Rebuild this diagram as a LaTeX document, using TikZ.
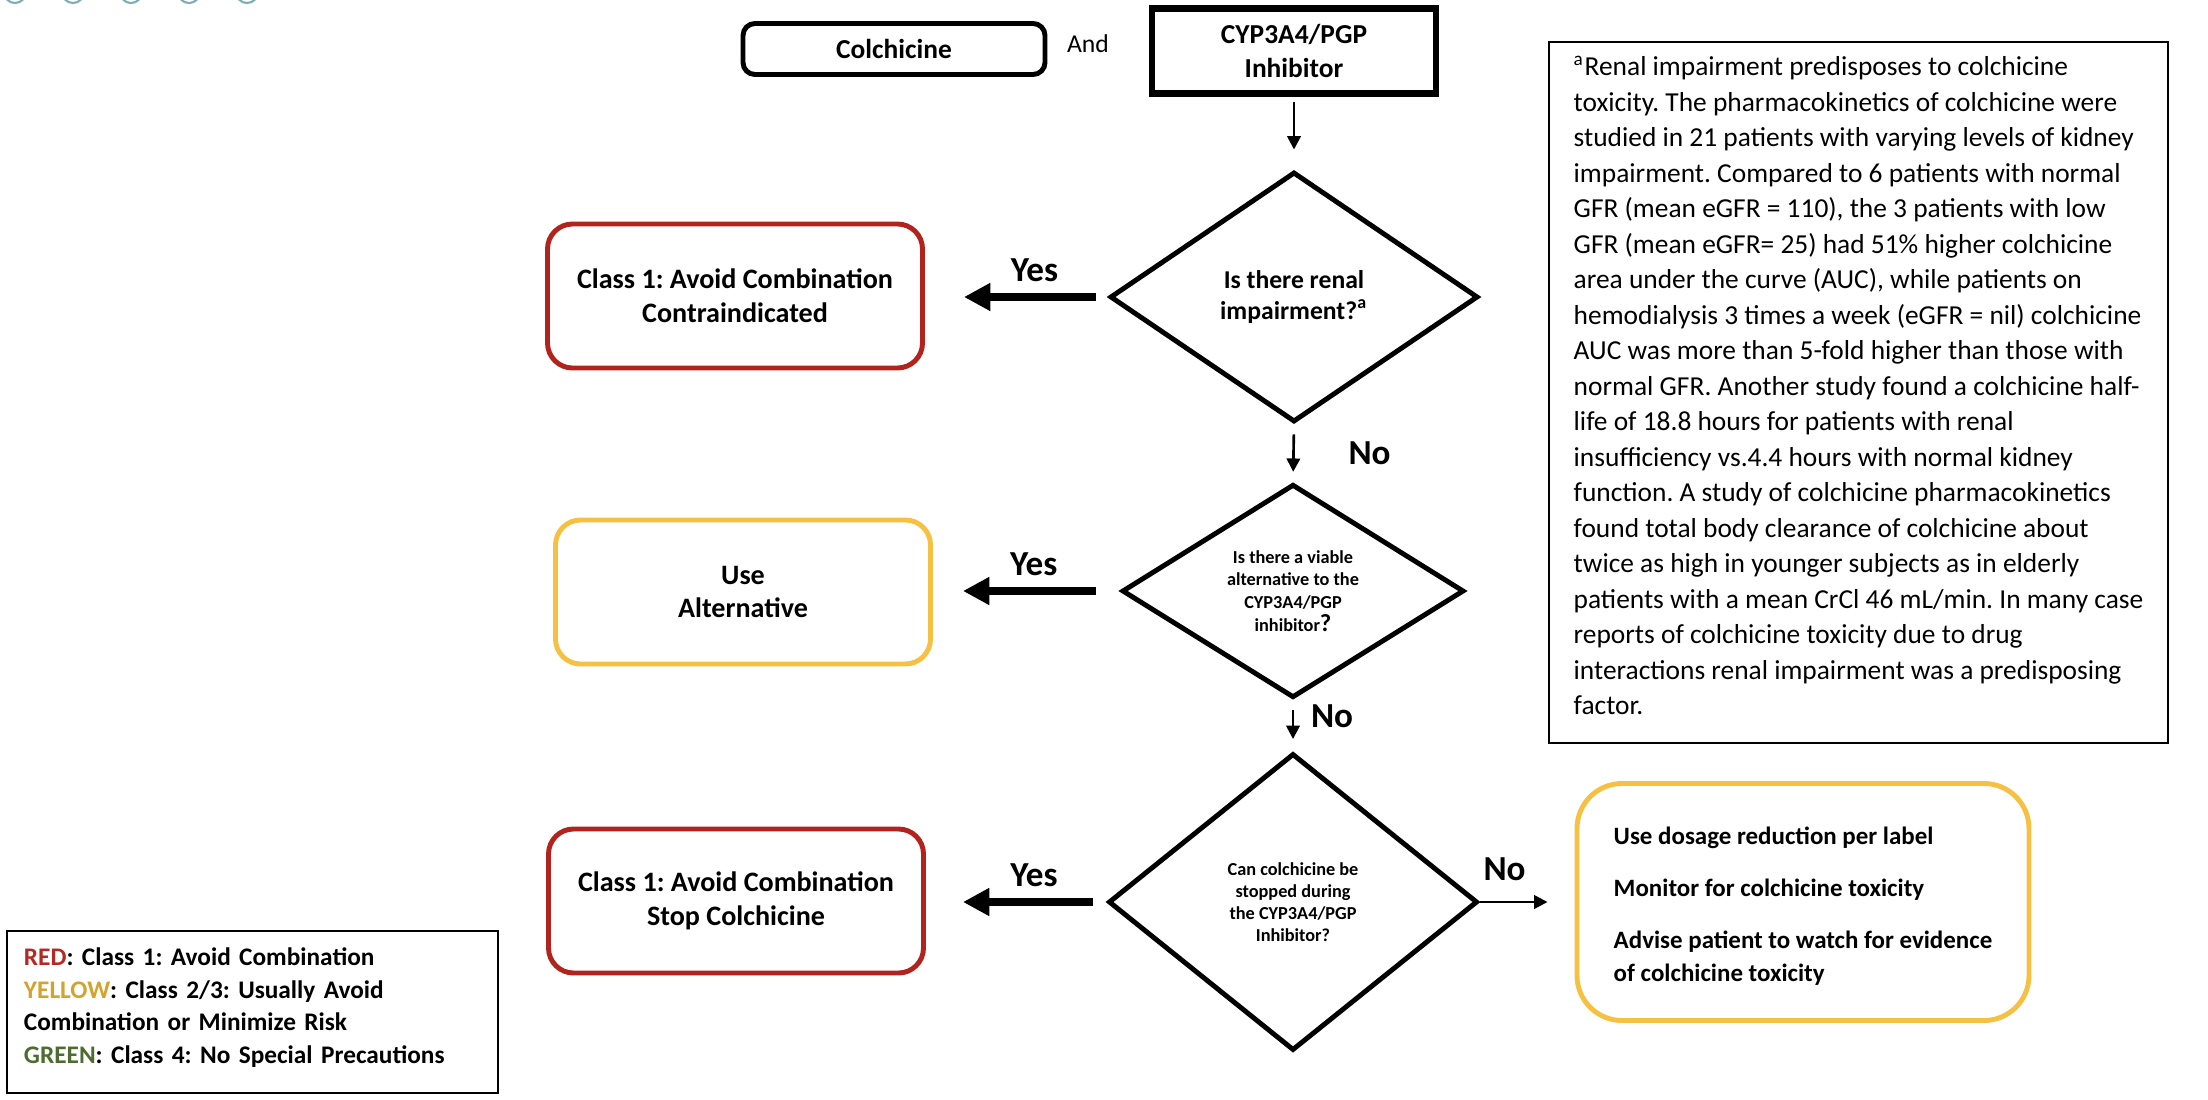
\documentclass[tikz,border=0pt]{standalone}
\usepackage{fontspec}
\setmainfont{Carlito}
\usepackage{tikz}
\usetikzlibrary{arrows.meta,positioning,shapes.geometric}
\definecolor{clsRed}{HTML}{B1231C}
\definecolor{clsYellow}{HTML}{F6C142}
\definecolor{lgRed}{HTML}{B22A22}
\definecolor{lgYellow}{HTML}{D4A32E}
\definecolor{lgGreen}{HTML}{4E6B30}
\definecolor{edgeTeal}{HTML}{7BAFB5}
\frenchspacing

\begin{document}
\begin{tikzpicture}[
  font=\fontsize{8}{9.6}\selectfont\bfseries,
  topbox/.style={draw, line width=1.4pt, align=center, inner sep=0pt},
  query/.style={diamond, draw, line width=1.4pt, inner sep=0pt, align=center},
  verdict/.style={draw=#1, line width=1.4pt, rounded corners=0.25cm, minimum width=3.75cm, minimum height=1.44cm, align=center},
  infobox/.style={draw, line width=0.5pt, align=left, inner sep=0pt},
  flow/.style={-{Triangle[length=3.8pt,width=3.8pt]}, line width=0.75pt},
  yesarr/.style={-{Triangle[length=7.5pt,width=7.5pt]}, line width=2pt},
  ans/.style={font=\fontsize{10}{12}\selectfont\bfseries}
]
\useasboundingbox (0,0) rectangle (22.08,-11);
% clipped markers at the top edge
\foreach \x in {0.15,0.73,1.31,1.89,2.47}
  \draw[edgeTeal, line width=0.6pt] (\x,0.078) circle (0.108);
% start
\node[topbox, rounded corners=0.12cm, minimum width=3.02cm, minimum height=0.51cm, font=\fontsize{7.8}{9.6}\selectfont\bfseries] (colch) at (8.94,-0.49) {Colchicine};
\node[font=\fontsize{7.3}{9}\selectfont] (andlbl) at (10.88,-0.44) {And};
\node[topbox, line width=1.8pt, minimum width=2.84cm, minimum height=0.85cm, font=\fontsize{7.8}{9.6}\selectfont\bfseries] (inhib) at (12.94,-0.51) {CYP3A4/PGP\\Inhibitor};
% questions
\node[query, minimum width=3.68cm, minimum height=2.5cm, font=\fontsize{7.3}{8.6}\selectfont\bfseries] (q1) at (12.94,-2.97) {Is there renal\\impairment?\textsuperscript{a}};
\node[query, minimum width=3.42cm, minimum height=2.05cm, font=\fontsize{5.2}{6.5}\selectfont\bfseries] (q2) at (12.93,-5.91) {Is there a viable\\alternative to the\\CYP3A4/PGP\\inhibitor{\fontsize{7}{7}\selectfont ?}};
\node[query, minimum width=3.69cm, minimum height=2.97cm, font=\fontsize{5.2}{6.3}\selectfont\bfseries] (q3) at (12.93,-9.02) {Can colchicine be\\stopped during\\the CYP3A4/PGP\\Inhibitor?};
% outcomes
\node[verdict=clsRed] (red1) at (7.35,-2.96) {Class 1: Avoid Combination\\Contraindicated};
\node[verdict=clsYellow] (yel1) at (7.43,-5.92) {Use\\Alternative};
\node[verdict=clsRed] (red2) at (7.36,-9.01) {Class 1: Avoid Combination\\Stop Colchicine};
\node[verdict=clsYellow, rounded corners=0.45cm, minimum width=4.52cm, minimum height=2.37cm, align=left, font=\fontsize{7.1}{9.4}\selectfont\bfseries] (yel2) at (18.03,-9.02) {\mbox{}\\[-2.1pt]Use dosage reduction per label\\[5.3pt]Monitor for colchicine toxicity\\[5.3pt]Advise patient to watch for evidence\\of colchicine toxicity};
% footnote and legend
\node[infobox, minimum width=6.19cm, minimum height=7.01cm, font=\fontsize{7.8}{10.1}\selectfont] (note) at (18.585,-3.925) {\textsuperscript{a}Renal impairment predisposes to colchicine\\toxicity. The pharmacokinetics of colchicine were\\studied in 21 patients with varying levels of kidney\\impairment. Compared to 6 patients with normal\\GFR (mean eGFR = 110), the 3 patients with low\\GFR (mean eGFR= 25) had 51\% higher colchicine\\area under the curve (AUC), while patients on\\hemodialysis 3 times a week (eGFR = nil) colchicine\\AUC was more than 5-fold higher than those with\\normal GFR. Another study found a colchicine half-\\life of 18.8 hours for patients with renal\\insufficiency vs.4.4 hours with normal kidney\\function. A study of colchicine pharmacokinetics\\found total body clearance of colchicine about\\twice as high in younger subjects as in elderly\\patients with a mean CrCl 46 mL/min. In many case\\reports of colchicine toxicity due to drug\\interactions renal impairment was a predisposing\\factor.\hspace{0.16cm}\\[-6.1pt]\mbox{}};
\node[infobox, minimum width=4.91cm, minimum height=1.62cm, text width=4.57cm, font=\fontsize{7.2}{9.25}\selectfont\bfseries] (legend) at (2.525,-10.12) {\textcolor{lgRed}{RED}: Class 1: Avoid Combination\\\textcolor{lgYellow}{YELLOW}: Class 2/3: Usually Avoid\\Combination or Minimize Risk\\\textcolor{lgGreen}{GREEN}: Class 4: No Special Precautions\\[-5.65pt]\mbox{}};
% connectors
\draw[flow, shorten <=0.05cm, shorten >=0.2cm] (inhib.south) -- (q1.north);
\draw[flow, shorten <=0.1cm, shorten >=0.1cm] (q1.south) -- (q2.north) node[midway, right=0.42cm, ans] {No};
\draw[flow, shorten <=0.1cm, shorten >=0.12cm] (q2.south) -- (q3.north) node[midway, right=0.05cm, yshift=0.09cm, ans] {No};
\draw[flow, shorten >=0.27cm] (q3.east) -- (yel2.west) node[pos=0.26, above=0.08cm, ans] {No};
\draw[yesarr, shorten <=0.12cm, shorten >=0.39cm] (q1.west) -- (q1.west -| red1.east) node[pos=0.4, above, ans] {Yes};
\draw[yesarr, shorten <=0.24cm, shorten >=0.3cm] (q2.west) -- (q2.west -| yel1.east) node[pos=0.46, above, ans] {Yes};
\draw[yesarr, shorten <=0.13cm, shorten >=0.37cm] (q3.west) -- (q3.west -| red2.east) node[pos=0.4, above, ans] {Yes};
\end{tikzpicture}
\end{document}
